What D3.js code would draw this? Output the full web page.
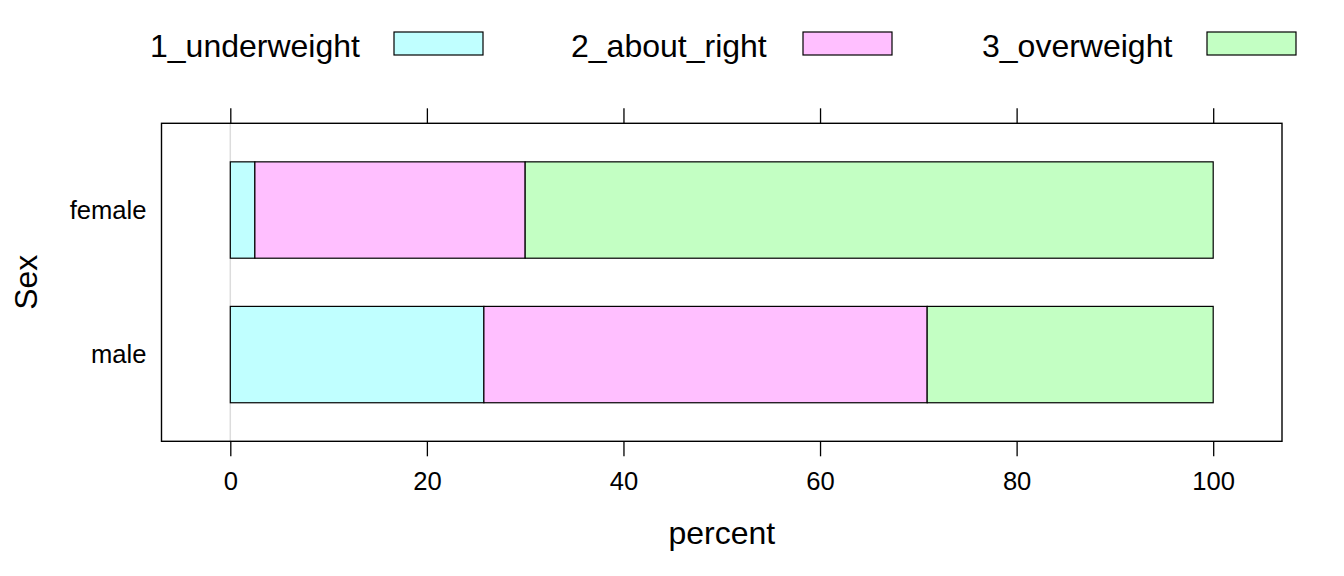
<!DOCTYPE html>
<html>
<head>
<meta charset="utf-8">
<script src="https://cdn.jsdelivr.net/npm/d3@7"></script>
<style>
  body { margin: 0; background: #fff; }
  text { font-family: "Liberation Sans", Arial, Helvetica, sans-serif; fill: #000; }
</style>
</head>
<body>
<div id="chart"></div>
<script>
// data
var sexes = ["female", "male"];
var groups = ["1_underweight", "2_about_right", "3_overweight"];
var underweight = [2.5, 25.8];
var aboutRight = [27.5, 45.1];
var overweight = [70.0, 29.1];
var xTicks = [0, 20, 40, 60, 80, 100];
var colors = ["#C0FFFF", "#FFBFFF", "#C3FFC3"];

var width = 1344, height = 576;
var panel = { left: 161.5, right: 1282, top: 123.3, bottom: 441.3 };

var svg = d3.select("#chart").append("svg")
  .attr("width", width).attr("height", height);

var x = d3.scaleLinear().domain([-7, 107]).range([panel.left, panel.right]);
var y = d3.scalePoint().domain(sexes).range([panel.top, panel.bottom]).padding(0.6);
var barH = y.step() * 2 / 3;

// reference line at zero
svg.append("line")
  .attr("x1", x(0)).attr("x2", x(0))
  .attr("y1", panel.top).attr("y2", panel.bottom)
  .attr("stroke", "#dcdcdc").attr("stroke-width", 1.5);

// stack the series
var rows = sexes.map(function(s, i) {
  return { sex: s, vals: [underweight[i], aboutRight[i], overweight[i]] };
});
var segs = [];
rows.forEach(function(r) {
  var acc = 0;
  r.vals.forEach(function(v, j) {
    segs.push({ sex: r.sex, g: j, x0: acc, x1: acc + v });
    acc += v;
  });
});

svg.selectAll("rect.bar").data(segs).enter().append("rect")
  .attr("class", "bar")
  .attr("x", function(d) { return x(d.x0); })
  .attr("width", function(d) { return x(d.x1) - x(d.x0); })
  .attr("y", function(d) { return y(d.sex) - barH / 2; })
  .attr("height", barH)
  .attr("fill", function(d) { return colors[d.g]; })
  .attr("stroke", "#000").attr("stroke-width", 1.2);

// panel box
svg.append("rect")
  .attr("x", panel.left).attr("y", panel.top)
  .attr("width", panel.right - panel.left).attr("height", panel.bottom - panel.top)
  .attr("fill", "none").attr("stroke", "#000").attr("stroke-width", 1.4);

// axes
var bottomAxis = svg.append("g")
  .attr("transform", "translate(0," + panel.bottom + ")")
  .call(d3.axisBottom(x).tickValues(xTicks).tickSize(15).tickPadding(16));
var topAxis = svg.append("g")
  .attr("transform", "translate(0," + panel.top + ")")
  .call(d3.axisTop(x).tickValues(xTicks).tickSize(15).tickFormat(""));
var leftAxis = svg.append("g")
  .attr("transform", "translate(" + panel.left + ",0)")
  .call(d3.axisLeft(y).tickSize(0).tickPadding(15));

[bottomAxis, topAxis, leftAxis].forEach(function(a) {
  a.select(".domain").remove();
  a.selectAll("line").attr("stroke", "#000").attr("stroke-width", 1.3);
  a.selectAll("text").attr("font-size", 25.6).attr("fill", "#000")
    .attr("font-family", "'Liberation Sans', Arial, sans-serif");
});

// axis titles
svg.append("text")
  .attr("x", (panel.left + panel.right) / 2).attr("y", 544)
  .attr("text-anchor", "middle").attr("font-size", 32)
  .text("percent");
svg.append("text")
  .attr("transform", "translate(37," + (panel.top + panel.bottom) / 2 + ") rotate(-90)")
  .attr("text-anchor", "middle").attr("font-size", 32)
  .text("Sex");

// legend
var legTextX = [150, 571, 982];
var legBoxX = [394, 803, 1207];
var leg = svg.selectAll("g.leg").data(groups).enter().append("g").attr("class", "leg");
leg.append("text")
  .attr("x", function(d, i) { return legTextX[i]; })
  .attr("y", 57)
  .attr("font-size", 32)
  .text(function(d) { return d; });
leg.append("rect")
  .attr("x", function(d, i) { return legBoxX[i]; })
  .attr("y", 32).attr("width", 89).attr("height", 23)
  .attr("fill", function(d, i) { return colors[i]; })
  .attr("stroke", "#000").attr("stroke-width", 1.2);
</script>
</body>
</html>
